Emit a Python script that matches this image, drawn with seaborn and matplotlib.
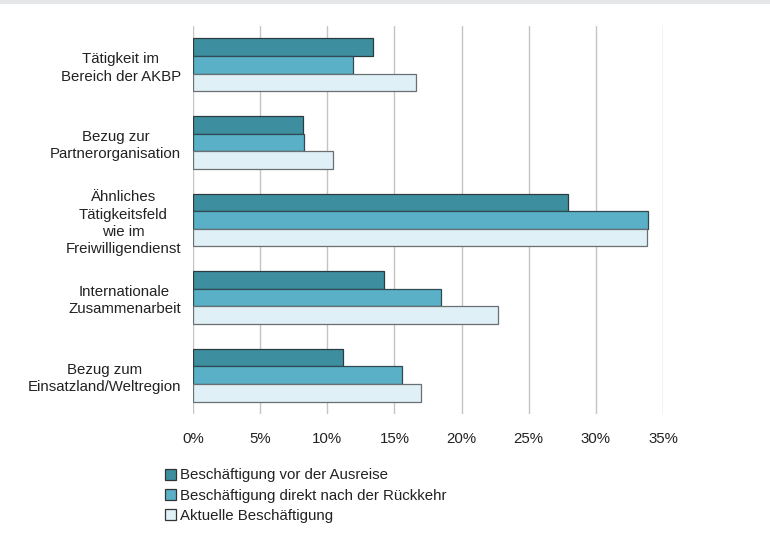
import pandas as pd
import matplotlib.pyplot as plt
import matplotlib.patches as mpatches
import seaborn as sns

# Werte (Anteil in %)
kategorien = [
    "Tätigkeit im\nBereich der AKBP",
    "Bezug zur\nPartnerorganisation",
    "Ähnliches\nTätigkeitsfeld\nwie im\nFreiwilligendienst",
    "Internationale\nZusammenarbeit",
    "Bezug zum\nEinsatzland/Weltregion",
]
serien = [
    "Beschäftigung vor der Ausreise",
    "Beschäftigung direkt nach der Rückkehr",
    "Aktuelle Beschäftigung",
]
vor_ausreise = [13.4, 8.2, 27.9, 14.2, 11.2]
nach_rueckkehr = [11.9, 8.3, 33.9, 18.5, 15.6]
aktuell = [16.6, 10.4, 33.8, 22.7, 17.0]
farben = ["#3d8fa0", "#5ab0c6", "#dff0f6"]
randfarben = ["#2b3c40", "#2f4a52", "#6a6f72"]

rows = []
for name, werte in zip(serien, [vor_ausreise, nach_rueckkehr, aktuell]):
    for kat, w in zip(kategorien, werte):
        rows.append({"Kategorie": kat, "Serie": name, "Wert": w})
df = pd.DataFrame(rows)

sns.set_style("white")
plt.rcParams["font.family"] = ["Liberation Sans", "DejaVu Sans"]

fig = plt.figure(figsize=(7.7, 5.44), dpi=100)
ax = fig.add_axes([193 / 770, 1 - 414 / 544, 470 / 770, 388 / 544])

sns.barplot(data=df, y="Kategorie", x="Wert", hue="Serie", order=kategorien,
            hue_order=serien, palette=farben, orient="h", width=0.68,
            saturation=1, legend=False, ax=ax)

# Rahmen pro Serie einfärben
for cont, ec in zip(ax.containers, randfarben):
    for bar in cont:
        bar.set_edgecolor(ec)
        bar.set_linewidth(0.9)

ax.set_xlim(0, 35)
ax.set_ylim(4.5, -0.5)
ax.set_xticks(range(0, 36, 5))
ax.set_xticklabels([f"{v}%" for v in range(0, 36, 5)])
ax.xaxis.grid(True, color="#c4c4c4", linewidth=1)
ax.set_axisbelow(True)
ax.set_xlabel("")
ax.set_ylabel("")
for s in ax.spines.values():
    s.set_visible(False)
ax.tick_params(axis="x", length=0, pad=13, labelsize=10.8, labelcolor="#222222")
ax.tick_params(axis="y", length=0, pad=8.6, labelsize=10.8, labelcolor="#222222")
for lbl in ax.get_yticklabels():
    lbl.set_multialignment("center")
    lbl.set_linespacing(1.3)

handles = [mpatches.Patch(facecolor=f, edgecolor="#333333", linewidth=0.9)
           for f in farben]
fig.legend(handles, serien, loc="upper left", bbox_to_anchor=(151 / 770, 1 - 455 / 544),
           frameon=False, fontsize=10.8, handlelength=0.75, handleheight=0.75,
           handletextpad=0.3, labelspacing=0.42, labelcolor="#222222")

# grauer Streifen oben
fig.patches.append(mpatches.Rectangle((0, 1 - 4 / 544), 1, 4 / 544,
                                      transform=fig.transFigure,
                                      facecolor="#e5e6e7", edgecolor="none"))

fig.savefig("out.png", dpi=100)
